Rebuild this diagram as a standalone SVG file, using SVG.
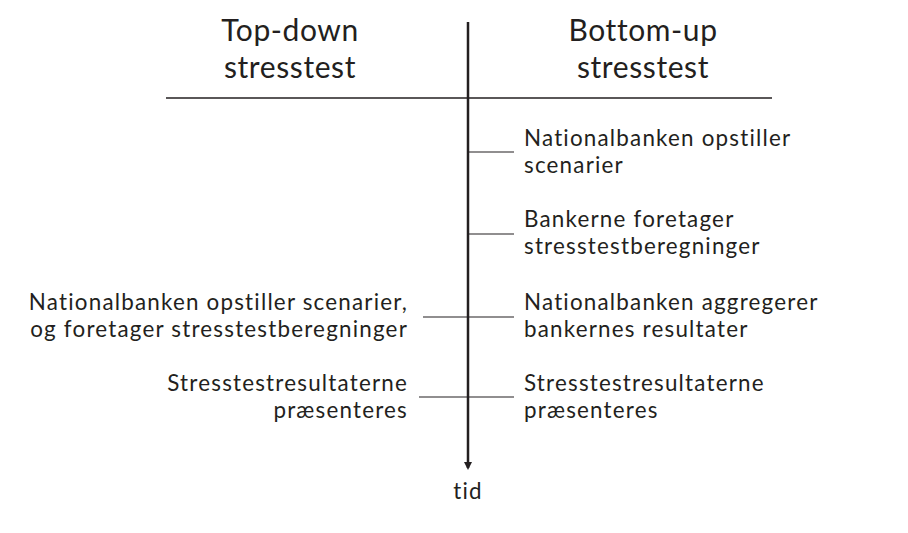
<svg xmlns="http://www.w3.org/2000/svg" width="908" height="533" viewBox="0 0 908 533">
<defs>
<style>
text{font-family:Lato,"Open Sans","Liberation Sans",sans-serif;fill:#231f20}
.h{font-size:30px;letter-spacing:0.6px;text-anchor:middle}
.t{font-size:22.4px;letter-spacing:1.2px}
.l{text-anchor:end}
.tick{stroke:#231f20;stroke-width:1.2}
</style>
<marker id="arr" markerWidth="10" markerHeight="10" refX="6" refY="4" orient="auto" markerUnits="userSpaceOnUse">
<path d="M0,0 L8,4 L0,8 z" fill="#231f20"/>
</marker>
</defs>
<rect width="908" height="533" fill="#fff"/>
<g id="header-left"><text class="h" x="290" y="41">Top-down</text><text class="h" x="290" y="78">stresstest</text></g>
<g id="header-right"><text class="h" x="643" y="41">Bottom-up</text><text class="h" x="643" y="78">stresstest</text></g>
<g id="connectors">
<line x1="166" y1="98" x2="772" y2="98" stroke="#231f20" stroke-width="1.5"/>
<line x1="468" y1="22" x2="468" y2="468" stroke="#231f20" stroke-width="2.5" marker-end="url(#arr)"/>
<line class="tick" x1="468" y1="152" x2="514" y2="152"/>
<line class="tick" x1="468" y1="234" x2="514" y2="234"/>
<line class="tick" x1="423" y1="317" x2="514" y2="317"/>
<line class="tick" x1="419" y1="397" x2="514" y2="397"/>
</g>
<g id="r1"><text class="t" x="524" y="146">Nationalbanken opstiller</text><text class="t" x="524" y="173">scenarier</text></g>
<g id="r2"><text class="t" x="524" y="227">Bankerne foretager</text><text class="t" x="524" y="254">stresstestberegninger</text></g>
<g id="r3"><text class="t" x="524" y="310">Nationalbanken aggregerer</text><text class="t" x="524" y="337">bankernes resultater</text></g>
<g id="r4"><text class="t" x="524" y="391">Stresstestresultaterne</text><text class="t" x="524" y="418">præsenteres</text></g>
<g id="l3"><text class="t l" x="408" y="310">Nationalbanken opstiller scenarier,</text><text class="t l" x="408" y="337">og foretager stresstestberegninger</text></g>
<g id="l4"><text class="t l" x="408" y="391">Stresstestresultaterne</text><text class="t l" x="408" y="418">præsenteres</text></g>
<g id="time"><text class="t" x="468" y="499" text-anchor="middle">tid</text></g>
</svg>
